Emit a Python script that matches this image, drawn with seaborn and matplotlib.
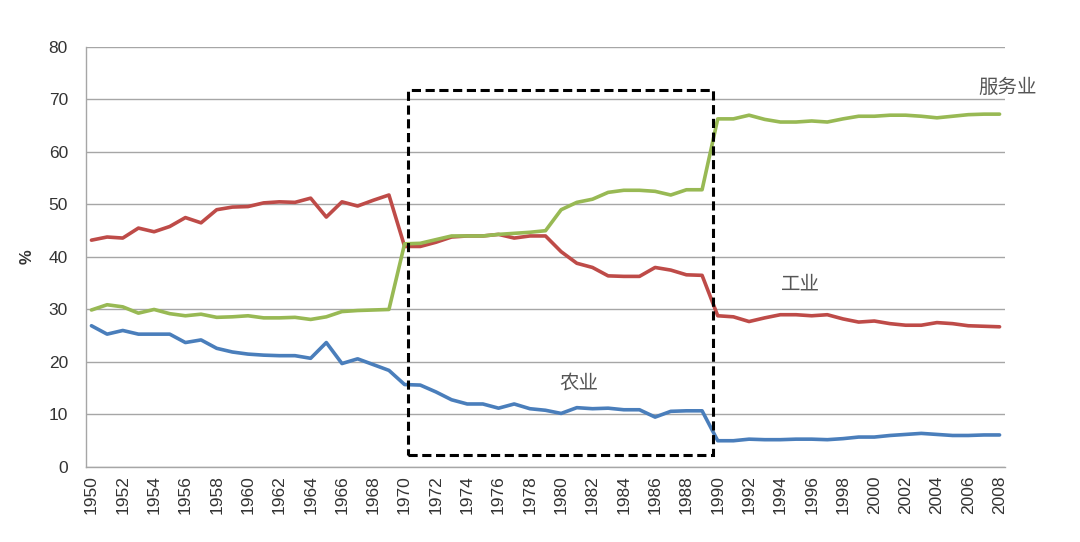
import numpy as np
import pandas as pd
import matplotlib
matplotlib.use("Agg")
import matplotlib.pyplot as plt
import seaborn as sns
from matplotlib.patches import Rectangle

years = list(range(1950, 2009))

# 农业 (agriculture)
agri = [26.9, 25.3, 26.0, 25.3, 25.3, 25.3, 23.7, 24.2, 22.6, 21.9,
        21.5, 21.3, 21.2, 21.2, 20.7, 23.7, 19.7, 20.6, 19.5, 18.4,
        15.7, 15.6, 14.3, 12.8, 12.0, 12.0, 11.2, 12.0, 11.1, 10.8,
        10.2, 11.3, 11.1, 11.2, 10.9, 10.9, 9.5, 10.6, 10.7, 10.7,
        5.0, 5.0, 5.3, 5.2, 5.2, 5.3, 5.3, 5.2, 5.4, 5.7,
        5.7, 6.0, 6.2, 6.4, 6.2, 6.0, 6.0, 6.1, 6.1]

# 工业 (industry)
industry = [43.2, 43.8, 43.6, 45.5, 44.8, 45.8, 47.5, 46.5, 49.0, 49.5,
            49.6, 50.3, 50.5, 50.4, 51.2, 47.6, 50.5, 49.7, 50.8, 51.8,
            42.0, 42.0, 42.8, 43.8, 44.0, 44.0, 44.3, 43.6, 44.0, 44.0,
            41.0, 38.8, 38.0, 36.4, 36.3, 36.3, 38.0, 37.5, 36.6, 36.5,
            28.8, 28.6, 27.7, 28.4, 29.0, 29.0, 28.8, 29.0, 28.2, 27.6,
            27.8, 27.3, 27.0, 27.0, 27.5, 27.3, 26.9, 26.8, 26.7]

# 服务业 (services)
services = [29.9, 30.9, 30.5, 29.3, 30.0, 29.2, 28.8, 29.1, 28.5, 28.6,
            28.8, 28.4, 28.4, 28.5, 28.1, 28.6, 29.6, 29.8, 29.9, 30.0,
            42.5, 42.6, 43.3, 44.0, 44.0, 44.0, 44.3, 44.5, 44.7, 45.0,
            49.0, 50.4, 51.0, 52.3, 52.7, 52.7, 52.5, 51.8, 52.8, 52.8,
            66.3, 66.3, 67.0, 66.2, 65.7, 65.7, 65.9, 65.7, 66.3, 66.8,
            66.8, 67.0, 67.0, 66.8, 66.5, 66.8, 67.1, 67.2, 67.2]

sectors = ["农业", "工业", "服务业"]
colors = ["#4a7ebb", "#be4b48", "#98b954"]

df = pd.DataFrame({
    "year": years * 3,
    "value": agri + industry + services,
    "sector": [s for s, vals in zip(sectors, [agri, industry, services]) for _ in vals],
})

sns.set_style("white")
plt.rcParams['font.family'] = ['Liberation Sans', 'Noto Sans CJK SC', 'DejaVu Sans']

fig = plt.figure(figsize=(10.8, 5.42), dpi=100)
ax = fig.add_axes([0.0796, 0.1384, 0.851, 0.775])

sns.lineplot(data=df, x="year", y="value", hue="sector", palette=colors,
             hue_order=sectors, linewidth=2.6, legend=False, ax=ax)

ax.set_xlim(1949.65, 2008.35)
ax.set_ylim(0, 80)
ax.set_yticks(range(0, 81, 10))
ax.set_xticks(range(1950, 2009, 2))
ax.tick_params(axis='x', labelrotation=90, labelsize=12.5, length=0, pad=6, colors="#333333")
ax.tick_params(axis='y', labelsize=12.5, length=0, pad=13, colors="#333333")
ax.yaxis.grid(True, color="#a6a6a6", linewidth=1)
ax.xaxis.grid(False)
ax.set_axisbelow(True)
for side in ["top", "right"]:
    ax.spines[side].set_visible(False)
for side in ["left", "bottom"]:
    ax.spines[side].set_color("#a6a6a6")
    ax.spines[side].set_linewidth(1)

ax.set_xlabel("")
ax.set_ylabel("%", fontsize=12, fontweight="bold", color="#333333", labelpad=10)

# dashed box around 1970-1989
ax.add_patch(Rectangle((1970.2, 2.3), 19.5, 69.5, fill=False, edgecolor="black",
                       linestyle=(0, (3, 1.5)), linewidth=2.2, zorder=5))

label_kw = dict(fontsize=14, color="#555555", family=['Noto Sans CJK SC', 'DejaVu Sans'],
                ha="center", va="center")
ax.text(2008.5, 72.3, "服务业", clip_on=False, **label_kw)
ax.text(1995.3, 34.9, "工业", **label_kw)
ax.text(1981.1, 16.0, "农业", **label_kw)

fig.savefig("out.png", dpi=100)
